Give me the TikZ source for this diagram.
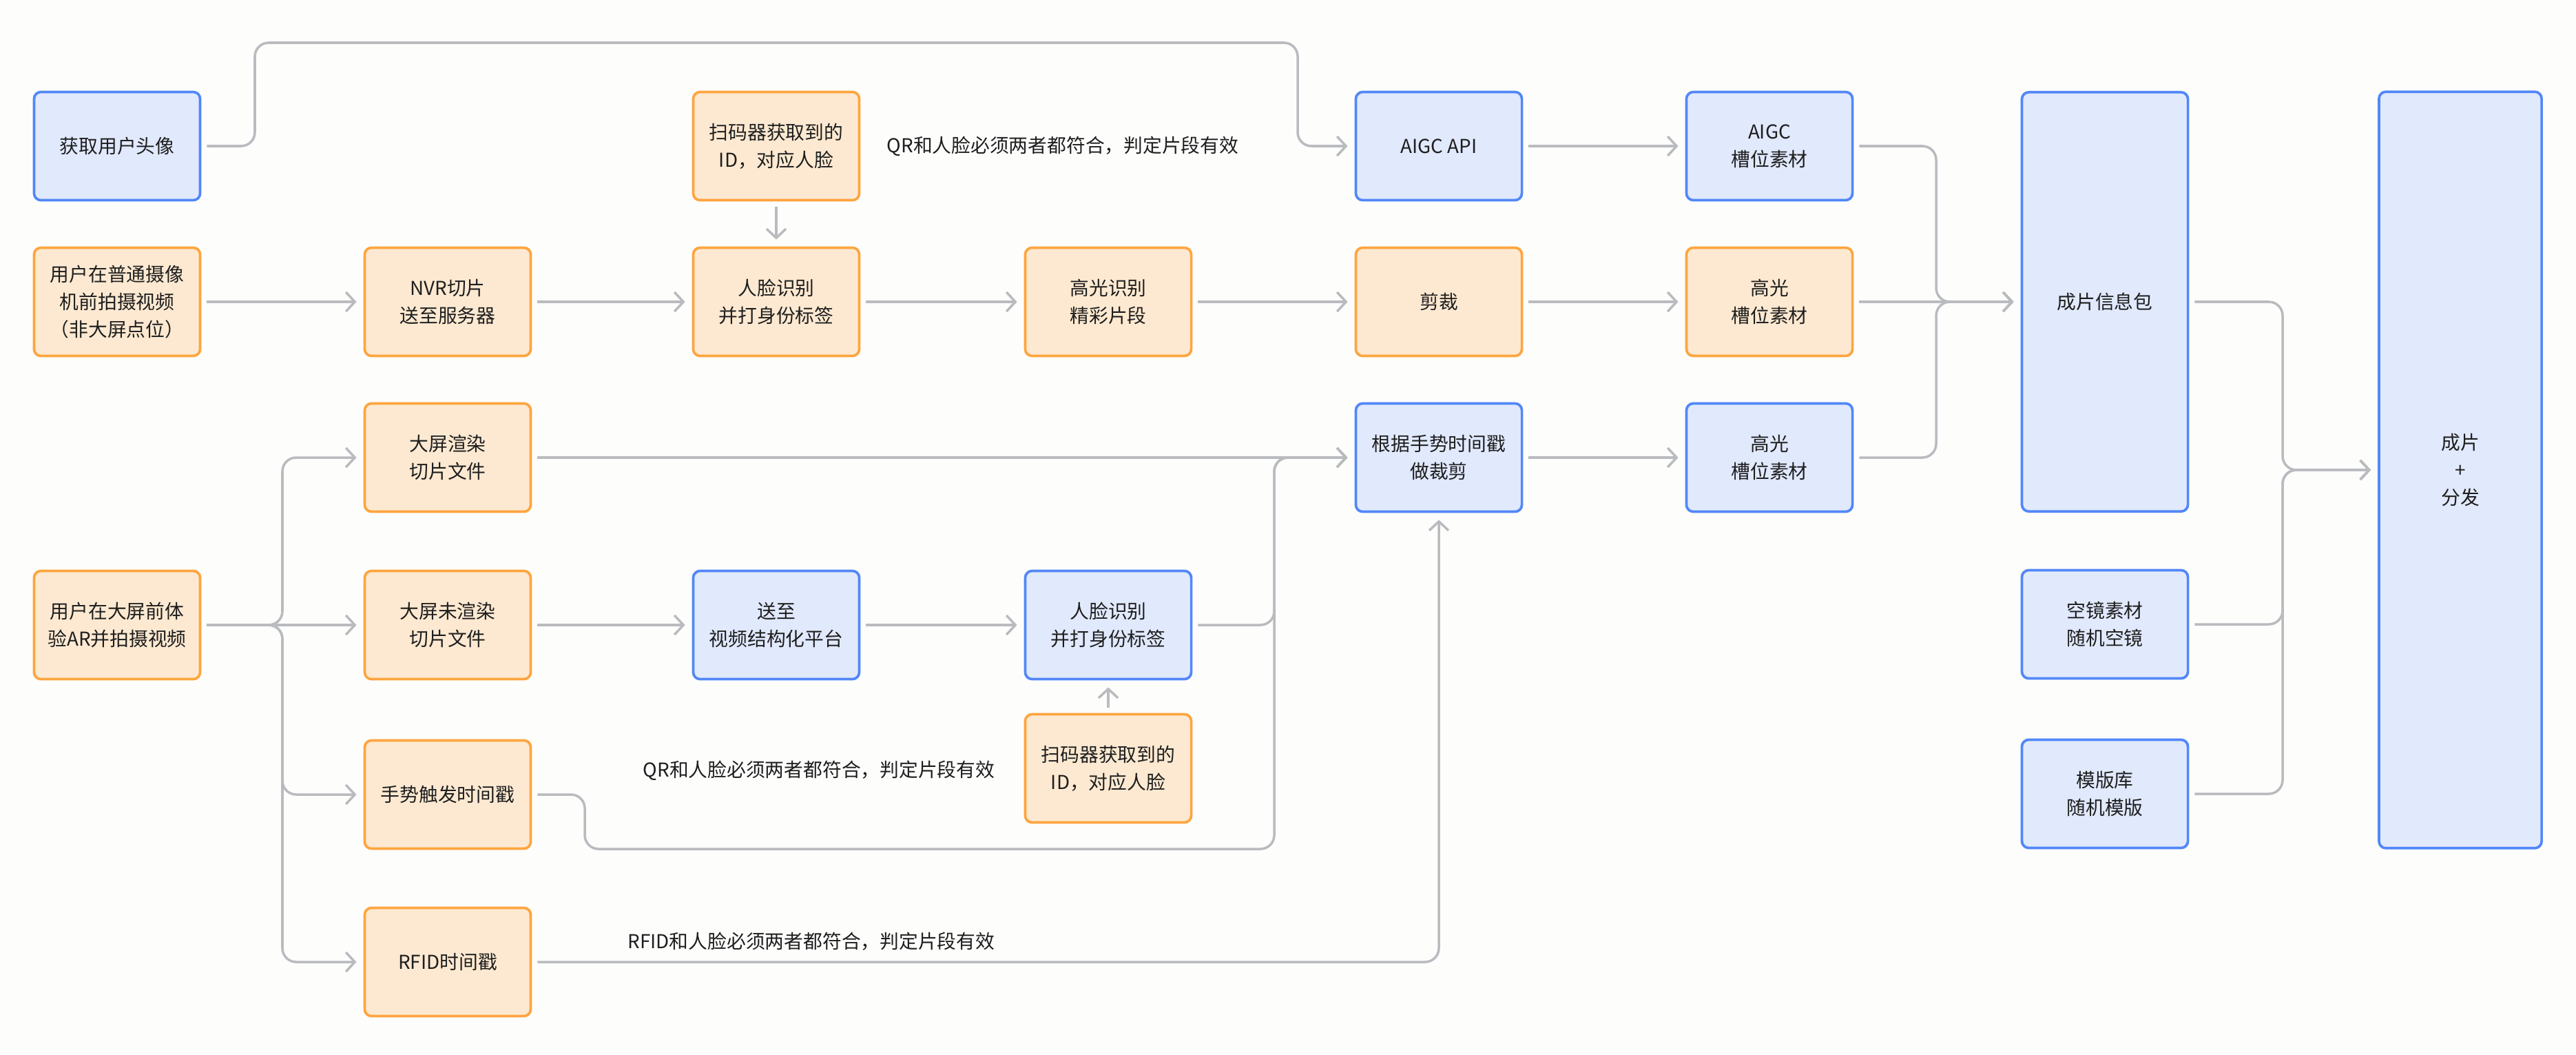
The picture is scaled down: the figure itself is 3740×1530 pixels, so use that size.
\documentclass[tikz,border=0pt]{standalone}
\usepackage{fontspec}
\setmainfont{Noto Sans CJK SC}
\usetikzlibrary{arrows.meta}
\definecolor{bfill}{HTML}{E1E9FD}
\definecolor{bdraw}{HTML}{5287F8}
\definecolor{ofill}{HTML}{FDE9D1}
\definecolor{odraw}{HTML}{FEA53F}
\definecolor{lgray}{HTML}{B9BBBF}
\definecolor{txt}{HTML}{1E1E1E}
\definecolor{bgc}{HTML}{FDFDFC}
\begin{document}
\begin{tikzpicture}[x=0.01cm,y=-0.01cm,
  box/.style={rectangle, rounded corners=0.1cm, line width=1.05pt, minimum width=2.41cm, minimum height=1.57cm, align=center, inner sep=0pt, text=txt, font=\fontsize{7.9}{11.3}\selectfont},
  bbox/.style={box, fill=bfill, draw=bdraw},
  obox/.style={box, fill=ofill, draw=odraw},
  conn/.style={draw=lgray, line width=1pt, rounded corners=0.2cm, -{Straight Barb[length=1.3mm,width=2.8mm]}, shorten >=0.1cm, shorten <=0.08cm},
  lbl/.style={text=txt, inner sep=0pt, font=\fontsize{7.9}{11.3}\selectfont}
]
\fill[bgc] (0,0) rectangle (3740,1530);
\useasboundingbox (0,0) rectangle (3740,1530);

% column 1
\node[bbox] (av)  at (170,212) {获取用户头像};
\node[obox] (cam) at (170,438) {用户在普通摄像\\机前拍摄视频\\（非大屏点位）};
\node[obox] (ar)  at (170,907) {用户在大屏前体\\验AR并拍摄视频};
% column 2
\node[obox] (nvr) at (650,438) {NVR切片\\送至服务器};
\node[obox] (dr)  at (650,664) {大屏渲染\\切片文件};
\node[obox] (dn)  at (650,907) {大屏未渲染\\切片文件};
\node[obox] (gs)  at (650,1153) {手势触发时间戳};
\node[obox] (rf)  at (650,1396) {RFID时间戳};
% column 3
\node[obox] (sc1) at (1127,212) {扫码器获取到的\\ID，对应人脸};
\node[obox] (fr1) at (1127,438) {人脸识别\\并打身份标签};
\node[bbox] (vs)  at (1127,907) {送至\\视频结构化平台};
% column 4
\node[obox] (hl)  at (1609,438) {高光识别\\精彩片段};
\node[bbox] (fr2) at (1609,907) {人脸识别\\并打身份标签};
\node[obox] (sc2) at (1609,1115) {扫码器获取到的\\ID，对应人脸};
% column 5
\node[bbox] (api) at (2089,212) {AIGC API};
\node[obox] (cut) at (2089,438) {剪裁};
\node[bbox] (gen) at (2089,664) {根据手势时间戳\\做裁剪};
% column 6
\node[bbox] (s1)  at (2569,212) {AIGC\\槽位素材};
\node[obox] (s2)  at (2569,438) {高光\\槽位素材};
\node[bbox] (s3)  at (2569,664) {高光\\槽位素材};
% column 7
\node[bbox, minimum height=6.08cm] (pkg) at (3056,438) {成片信息包};
\node[bbox] (kj)  at (3056,906) {空镜素材\\随机空镜};
\node[bbox] (mb)  at (3056,1152) {模版库\\随机模版};
% column 8
\node[bbox, minimum width=2.36cm, minimum height=10.97cm] (fin) at (3572,682) {成片\\+\\分发};

% labels
\node[lbl] (q1) at (1543,212) {QR和人脸必须两者都符合，判定片段有效};
\node[lbl] (q2) at (1189,1118) {QR和人脸必须两者都符合，判定片段有效};
\node[lbl] (q3) at (1178,1366) {RFID和人脸必须两者都符合，判定片段有效};

% connectors
\draw[conn] (av.east) -- (370,212) -- (370,62) -- (1884,62) |- (api.west);
\draw[conn] (sc1.south) -- (fr1.north);
\draw[conn] (cam.east) -- (nvr.west);
\draw[conn] (nvr.east) -- (fr1.west);
\draw[conn] (fr1.east) -- (hl.west);
\draw[conn] (hl.east) -- (cut.west);
\draw[conn] (cut.east) -- (s2.west);
\draw[conn] (api.east) -- (s1.west);
\draw[conn] (gen.east) -- (s3.west);
\draw[conn] (s1.east) -- (2811,212) |- (pkg.west);
\draw[conn] (s2.east) -- (pkg.west);
\draw[conn] (s3.east) -- (2811,664) |- (pkg.west);
\draw[conn] (pkg.east) -- (3314,438) |- (fin.west);
\draw[conn] (kj.east) -- (3314,906) |- (fin.west);
\draw[conn] (mb.east) -- (3314,1152) |- (fin.west);
\draw[conn] (ar.east) -- (410,907) |- (dr.west);
\draw[conn] (ar.east) -- (dn.west);
\draw[conn] (ar.east) -- (410,907) |- (gs.west);
\draw[conn] (ar.east) -- (410,907) |- (rf.west);
\draw[conn] (dr.east) -- (gen.west);
\draw[conn] (dn.east) -- (vs.west);
\draw[conn] (vs.east) -- (fr2.west);
\draw[conn] (sc2.north) -- (fr2.south);
\draw[conn] (fr2.east) -- (1850,907) |- (gen.west);
\draw[conn] (gs.east) -- (849,1153) -- (849,1232) -- (1850,1232) |- (gen.west);
\draw[conn] (rf.east) -| (gen.south);
\end{tikzpicture}
\end{document}
